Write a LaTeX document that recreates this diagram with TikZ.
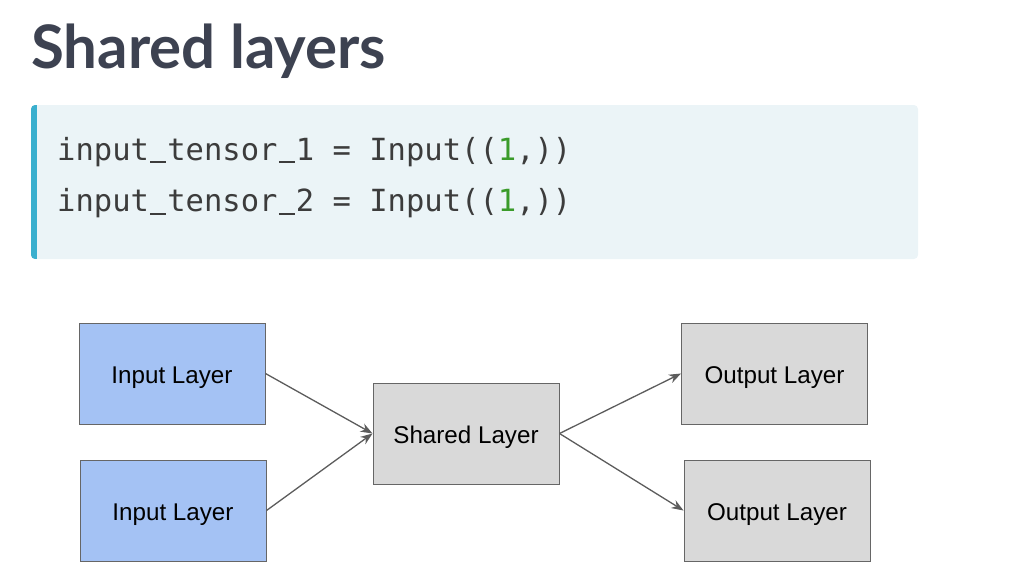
\documentclass[tikz,border=0pt]{standalone}
\usepackage{fontspec}
\setmainfont{Liberation Sans}
\newfontfamily\titlefont{Lato}
\newfontfamily\codefont{DejaVu Sans Mono}
\usepackage{tikz}
\usetikzlibrary{arrows.meta, positioning}

\definecolor{titlegray}{HTML}{3D4251}
\definecolor{codegray}{HTML}{3C3C3C}
\definecolor{codegreen}{HTML}{3A9B2A}
\definecolor{codebg}{HTML}{EBF4F7}
\definecolor{codebar}{HTML}{3AAFCE}
\definecolor{inblue}{HTML}{A4C2F4}
\definecolor{layergray}{HTML}{D9D9D9}
\definecolor{edgegray}{HTML}{666666}
\newcommand{\us}{\makebox[0.602em][c]{\rule[-3.2pt]{0.52em}{2pt}}}

\begin{document}
\begin{tikzpicture}[x=1pt,y=-1pt,on grid,>={Stealth[length=12pt,width=9pt]},
        layer/.style={draw=edgegray, line width=1pt, minimum width=186pt, minimum height=101pt,
                      inner sep=0pt, text height=19.6pt, text depth=0pt,
                      font=\fontsize{24.2}{29}\selectfont},
        inlayer/.style={layer, fill=inblue},
        outlayer/.style={layer, fill=layergray},
        link/.style={->, draw=edgegray!90!black, line width=1.3pt},
        codeline/.style={anchor=base west, inner sep=0pt, text=codegray,
                         font=\codefont\fontsize{30.5}{36}\selectfont}]

      \useasboundingbox (0,0) rectangle (1016,576);

      % heading and code box
      \node[anchor=base west, inner sep=0pt, text=titlegray,
            font=\titlefont\bfseries\fontsize{60}{72}\selectfont] (title) at (31,68) {Shared layers};
      \fill[codebg, rounded corners=4pt] (31,105) rectangle (918,259);
      \begin{scope}
        \clip[rounded corners=4pt] (31,105) rectangle (918,259);
        \fill[codebar] (31,105) rectangle (37,259);
      \end{scope}
      \node[codeline] (code1) at (57,160) {input\us tensor\us 1 = Input((\textcolor{codegreen}{1},))};
      \node[codeline] (code2) at (57,211.5) {input\us tensor\us 2 = Input((\textcolor{codegreen}{1},))};

      % layers
      \node[inlayer]  (in1)    at (172,373.5)                            {Input Layer};
      \node[inlayer]  (in2)    [below=137pt of in1, xshift=1pt]          {Input Layer};
      \node[outlayer] (shared) at (466,433.5)                            {Shared Layer};
      \node[outlayer] (out1)   [above right=60pt and 308.5pt of shared] {Output Layer};
      \node[outlayer] (out2)   [below=137pt of out1, xshift=2.5pt]       {Output Layer};

      \draw[link] (in1.east) -- (shared.west);
      \draw[link] (in2.east) -- (shared.west);
      \draw[link] (shared.east) -- (out1.west);
      \draw[link] (shared.east) -- (out2.west);
\end{tikzpicture}
\end{document}
